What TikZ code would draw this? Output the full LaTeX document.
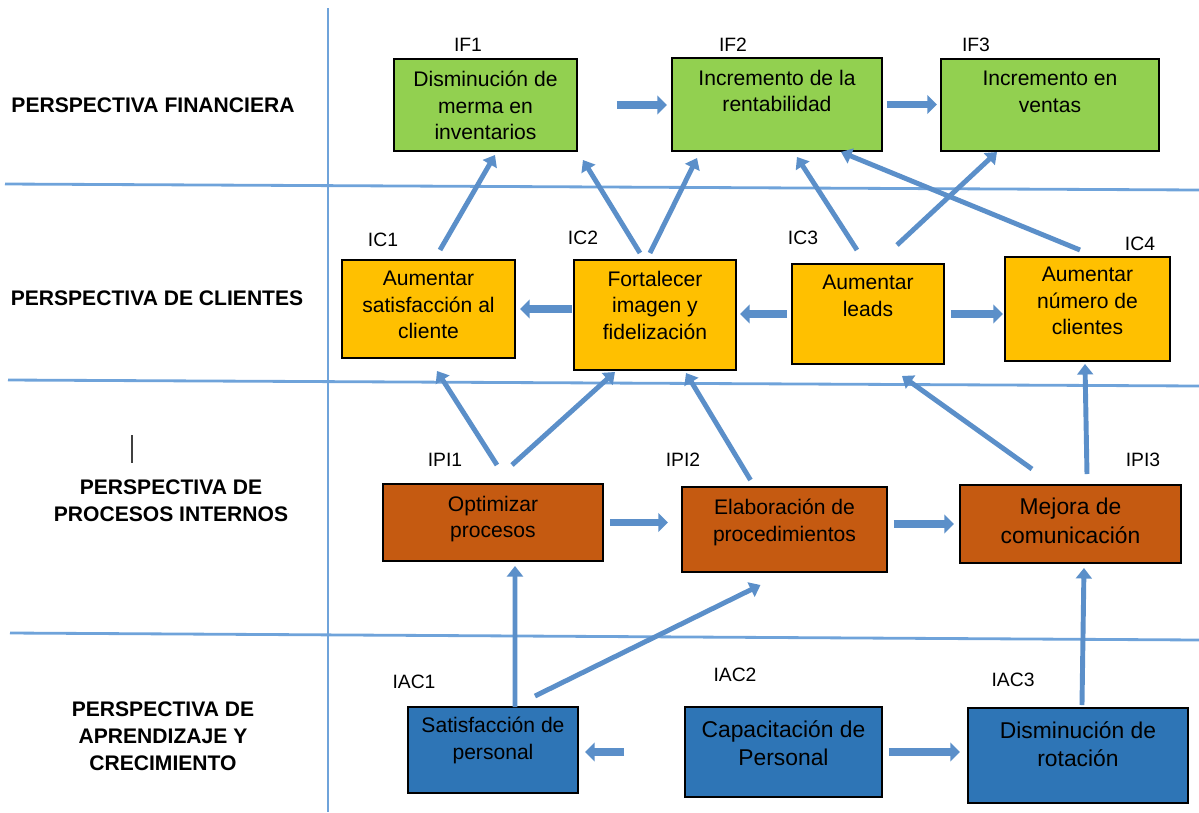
\documentclass[tikz,border=0pt]{standalone}
\usepackage{fontspec}
\setmainfont{Liberation Sans}
\usepackage{tikz}
\usetikzlibrary{arrows.meta}

\definecolor{gridblue}{HTML}{6FA3DA}
\definecolor{arrowblue}{HTML}{5B8FC9}
\definecolor{fingreen}{HTML}{92D050}
\definecolor{cliyellow}{HTML}{FFC000}
\definecolor{procorange}{HTML}{C55A11}
\definecolor{learnblue}{HTML}{2E75B6}

\begin{document}
\begin{tikzpicture}[x=0.02cm, y=-0.02cm,
    kpi/.style={draw=black, line width=0.8pt, anchor=north west, inner sep=0pt, outer sep=0pt},
    kpitext/.style={anchor=north, align=center, inner sep=0pt, font=\fontsize{12}{15}\selectfont},
    bigtext/.style={kpitext, font=\fontsize{13}{16}\selectfont},
    tag/.style={inner sep=0pt, font=\fontsize{11}{13}\selectfont},
    persp/.style={align=center, inner sep=0pt, font=\fontsize{12}{15.3}\selectfont\bfseries},
    gridline/.style={gridblue, line width=1.6pt},
    arr/.style={arrowblue, line width=2.8pt, -{Triangle[length=6pt,width=9pt]}},
    blockarr/.style={arrowblue, line width=4.5pt, -{Triangle[length=5.5pt,width=10.5pt]}}]

    \useasboundingbox (0,0) rectangle (1199,812);

    % grid
    \draw[gridline] (328,8) -- (328,812);
    \draw[gridline] (5,184) -- (1199,190);
    \draw[gridline] (8,380) -- (1199,386);
    \draw[gridline] (10,633) -- (1199,640);
    \draw[black!75, line width=1.1pt] (132,435) -- (132,463);

    \node[persp] (pfin) at (153,105) {PERSPECTIVA FINANCIERA};
    \node[persp] (pcli) at (157,298) {PERSPECTIVA DE CLIENTES};
    \node[persp] (ppro) at (171,501) {PERSPECTIVA DE\\PROCESOS INTERNOS};
    \node[persp] (papr) at (163,736) {PERSPECTIVA DE\\APRENDIZAJE Y\\CRECIMIENTO};

    % financiera
    \node[kpi, fill=fingreen, minimum width=3.66cm, minimum height=1.84cm] (if1) at (394,59) {};
    \node[kpi, fill=fingreen, minimum width=4.2cm, minimum height=1.86cm] (if2) at (672,58) {};
    \node[kpi, fill=fingreen, minimum width=4.36cm, minimum height=1.84cm] (if3) at (941,59) {};
    \node[kpitext] (if1t) at ([shift={(0,12)}]if1.north) {Disminución de\\merma en\\inventarios};
    \node[kpitext] (if2t) at ([shift={(0,12)}]if2.north) {Incremento de la\\rentabilidad};
    \node[kpitext] (if3t) at ([shift={(0,12)}]if3.north) {Incremento en\\ventas};
    \node[tag] (if1l) at (468,45) {IF1};
    \node[tag] (if2l) at (733,45) {IF2};
    \node[tag] (if3l) at (976,45) {IF3};

    % clientes
    \node[kpi, fill=cliyellow, minimum width=3.46cm, minimum height=1.96cm] (ic1) at (342,260) {};
    \node[kpi, fill=cliyellow, minimum width=3.24cm, minimum height=2.2cm] (ic2) at (574,260) {};
    \node[kpi, fill=cliyellow, minimum width=3.04cm, minimum height=2.0cm] (ic3) at (792,264) {};
    \node[kpi, fill=cliyellow, minimum width=3.3cm, minimum height=2.08cm] (ic4) at (1005,257) {};
    \node[kpitext] (ic1t) at ([shift={(0,11)}]ic1.north) {Aumentar\\satisfacción al\\cliente};
    \node[kpitext] (ic2t) at ([shift={(0,11)}]ic2.north) {Fortalecer\\imagen y\\fidelización};
    \node[kpitext] (ic3t) at ([shift={(0,11)}]ic3.north) {Aumentar\\leads};
    \node[kpitext] (ic4t) at ([shift={(0,10)}]ic4.north) {Aumentar\\número de\\clientes};
    \node[tag] (ic1l) at (383,240) {IC1};
    \node[tag] (ic2l) at (583,238) {IC2};
    \node[tag] (ic3l) at (803,238) {IC3};
    \node[tag] (ic4l) at (1140,244) {IC4};

    % procesos internos
    \node[kpi, fill=procorange, minimum width=4.4cm, minimum height=1.54cm] (ipi1) at (383,484) {};
    \node[kpi, fill=procorange, minimum width=4.1cm, minimum height=1.7cm] (ipi2) at (682,487) {};
    \node[kpi, fill=procorange, minimum width=4.42cm, minimum height=1.56cm] (ipi3) at (960,485) {};
    \node[kpitext] (ipi1t) at ([shift={(0,12)}]ipi1.north) {Optimizar\\procesos};
    \node[kpitext] (ipi2t) at ([shift={(0,12)}]ipi2.north) {Elaboración de\\procedimientos};
    \node[bigtext] (ipi3t) at ([shift={(0,13)}]ipi3.north) {Mejora de\\comunicación};
    \node[tag] (ipi1l) at (445,460) {IPI1};
    \node[tag] (ipi2l) at (683,460) {IPI2};
    \node[tag] (ipi3l) at (1143,460) {IPI3};

    % aprendizaje
    \node[kpi, fill=learnblue, minimum width=3.4cm, minimum height=1.72cm] (iac1) at (408,707) {};
    \node[kpi, fill=learnblue, minimum width=3.94cm, minimum height=1.8cm] (iac2) at (685,707) {};
    \node[kpi, fill=learnblue, minimum width=4.4cm, minimum height=1.9cm] (iac3) at (968,708) {};
    \node[kpitext] (iac1t) at ([shift={(0,10)}]iac1.north) {Satisfacción de\\personal};
    \node[bigtext] (iac2t) at ([shift={(0,13)}]iac2.north) {Capacitación de\\Personal};
    \node[bigtext] (iac3t) at ([shift={(0,13)}]iac3.north) {Disminución de\\rotación};
    \node[tag] (iac1l) at (414,682) {IAC1};
    \node[tag] (iac2l) at (735,675) {IAC2};
    \node[tag] (iac3l) at (1013,680) {IAC3};

    % horizontal arrows
    \draw[blockarr, shorten <=0.8cm, shorten >=0.1cm] (if1.east) -- (if1.east -| if2.west);
    \draw[blockarr, shorten <=0.1cm, shorten >=0.08cm] (if2.east) -- (if2.east -| if3.west);
    \draw[blockarr, shorten <=0.04cm, shorten >=0.1cm] (ic2.west |- ic1.east) -- (ic1.east);
    \draw[blockarr, shorten <=0.1cm, shorten >=0.08cm] (ic3.west) -- (ic3.west -| ic2.east);
    \draw[blockarr, shorten <=0.14cm, shorten >=0.04cm] (ic3.east) -- (ic3.east -| ic4.west);
    \draw[blockarr, shorten <=0.14cm, shorten >=0.28cm] (ipi1.east) -- (ipi1.east -| ipi2.west);
    \draw[blockarr, shorten <=0.14cm, shorten >=0.12cm] (ipi3.west -| ipi2.east) -- (ipi3.west);
    \draw[blockarr, shorten <=1.22cm, shorten >=0.14cm] (iac2.west) -- (iac2.west -| iac1.east);
    \draw[blockarr, shorten <=0.14cm, shorten >=0.16cm] (iac2.east) -- (iac2.east -| iac3.west);

    % clientes -> financiera
    \draw[arr] ([shift={(11.5,-10)}]ic1.north) -- ([shift={(9.5,4)}]if1.south);
    \draw[arr] ([shift={(-15,-7)}]ic2.north) -- ([shift={(6,9)}]if1.south east);
    \draw[arr] ([shift={(-5,-7)}]ic2.north) -- ([shift={(25,7)}]if2.south west);
    \draw[arr] ([shift={(-11,-14)}]ic3.north) -- ([shift={(20,6)}]if2.south);
    \draw[arr] ([shift={(29,-19)}]ic3.north) -- ([shift={(-53,1)}]if3.south);
    \draw[arr] ([shift={(-7.5,-7)}]ic4.north) -- ([shift={(64,1)}]if2.south);

    % procesos -> clientes
    \draw[arr] ([shift={(4,-19)}]ipi1.north) -- ([shift={(8.5,13)}]ic1.south);
    \draw[arr] ([shift={(19,-19)}]ipi1.north) -- ([shift={(-40,2)}]ic2.south);
    \draw[arr] ([shift={(-34,-7)}]ipi2.north) -- ([shift={(31,3)}]ic2.south);
    \draw[arr] ([shift={(-38.5,-16)}]ipi3.north) -- ([shift={(34,12)}]ic3.south);
    \draw[arr] ([shift={(16.5,-11)}]ipi3.north) -- ([shift={(-2.5,3)}]ic4.south);

    % aprendizaje -> procesos
    \draw[arr] ([shift={(22,0)}]iac1.north) -- ([shift={(22,5)}]ipi1.south);
    \draw[arr] ([shift={(42,-11)}]iac1.north) -- ([shift={(-24,13)}]ipi2.south);
    \draw[arr] ([shift={(4,-3)}]iac3.north) -- ([shift={(13.5,5)}]ipi3.south);
\end{tikzpicture}
\end{document}
